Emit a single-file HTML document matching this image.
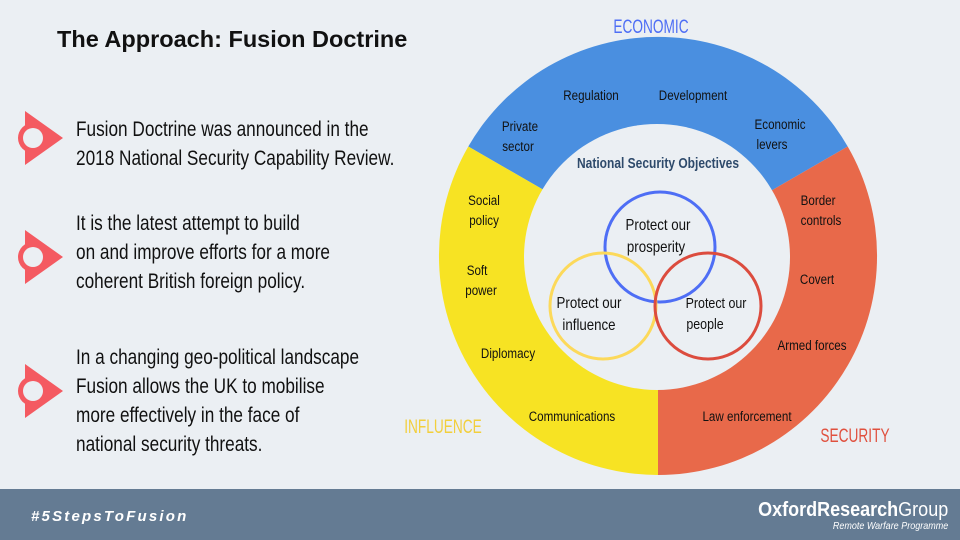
<!DOCTYPE html>
<html><head><meta charset="utf-8"><style>
html,body{margin:0;padding:0}
body{width:960px;height:540px;background:#ebeff3;position:relative;overflow:hidden;font-family:"Liberation Sans",sans-serif}
.t{position:absolute;color:#111;font-size:21.5px;line-height:29px;transform:scaleX(.8);transform-origin:0 0;white-space:nowrap}
svg text{transform-box:fill-box;transform-origin:center;transform:scaleX(.83)}
svg text.b{transform:scaleX(.8)}
svg text.u{transform:scaleX(.72)}
</style></head><body>
<div style="position:absolute;left:57px;top:26px;font:bold 23.5px 'Liberation Sans',sans-serif;color:#111;white-space:nowrap">The Approach: Fusion Doctrine</div>
<div class="t" style="left:76px;top:115px">Fusion Doctrine was announced in the<br>2018 National Security Capability Review.</div>
<div class="t" style="left:76px;top:209px">It is the latest attempt to build<br>on and improve efforts for a more<br>coherent British foreign policy.</div>
<div class="t" style="left:76px;top:343px">In a changing geo-political landscape<br>Fusion allows the UK to mobilise<br>more effectively in the face of<br>national security threats.</div>
<svg width="960" height="540" style="position:absolute;left:0;top:0" font-family="Liberation Sans, sans-serif">
<g fill="#f45a61">
<g transform="translate(33,138)"><path d="M-8,-27 L30,0 L-8,27 Z"/><circle r="15"/><circle r="10" fill="#ebeff3"/></g>
<g transform="translate(33,257)"><path d="M-8,-27 L30,0 L-8,27 Z"/><circle r="15"/><circle r="10" fill="#ebeff3"/></g>
<g transform="translate(33,391)"><path d="M-8,-27 L30,0 L-8,27 Z"/><circle r="15"/><circle r="10" fill="#ebeff3"/></g>
</g>
<path d="M658,256 L468.3,146.5 A219,219 0 0 1 847.7,146.5 Z" fill="#4a8fe0"/>
<path d="M658,256 L847.7,146.5 A219,219 0 0 1 658,475 Z" fill="#e8694a"/>
<path d="M658,256 L658,475 A219,219 0 0 1 468.3,146.5 Z" fill="#f7e323"/>
<circle cx="657" cy="257" r="133" fill="#ebeff3"/>
<circle cx="660" cy="247" r="55" fill="none" stroke="#4e6ef5" stroke-width="3"/>
<circle cx="603" cy="306" r="53" fill="none" stroke="#fcd95a" stroke-width="3"/>
<circle cx="708" cy="306" r="53" fill="none" stroke="#dc4c3e" stroke-width="3"/>
<g font-size="15" fill="#111" text-anchor="middle">
<text class="b" x="658" y="168" font-weight="bold" fill="#2e4a6b" font-size="15">National Security Objectives</text>
<text x="658" y="230" font-size="16">Protect our</text><text x="656" y="252" font-size="16">prosperity</text>
<text x="589" y="308" font-size="16">Protect our</text><text x="589" y="330" font-size="16">influence</text>
<text x="716" y="308">Protect our</text><text x="705" y="329">people</text>
<text x="591" y="100" font-size="14">Regulation</text>
<text x="693" y="100" font-size="14">Development</text>
<text x="520" y="131" font-size="14">Private</text><text x="518" y="151" font-size="14">sector</text>
<text x="780" y="129" font-size="14">Economic</text><text x="772" y="149" font-size="14">levers</text>
<text x="484" y="205" font-size="14">Social</text><text x="484" y="225" font-size="14">policy</text>
<text x="477" y="275" font-size="14">Soft</text><text x="481" y="295" font-size="14">power</text>
<text x="508" y="358" font-size="14">Diplomacy</text>
<text x="572" y="421" font-size="14">Communications</text>
<text x="818" y="205" font-size="14">Border</text><text x="821" y="225" font-size="14">controls</text>
<text x="817" y="284" font-size="14">Covert</text>
<text x="812" y="350" font-size="14">Armed forces</text>
<text x="747" y="421" font-size="14">Law enforcement</text>
<text class="u" x="651" y="33" font-size="19" fill="#4e6ef5">ECONOMIC</text>
<text class="u" x="443" y="433" font-size="19" fill="#f2cf3c">INFLUENCE</text>
<text class="u" x="855" y="442" font-size="19" fill="#e0503e">SECURITY</text>
</g>
</svg>
<div style="position:absolute;left:0;top:489px;width:960px;height:51px;background:#647b93"></div>
<div style="position:absolute;left:31px;top:508px;color:#fff;font:italic bold 15px 'Liberation Sans',sans-serif;letter-spacing:2.2px">#5StepsToFusion</div>
<div style="position:absolute;right:12px;top:499px;color:#fff;font-size:20px;line-height:22px;text-align:right;transform:scaleX(.9);transform-origin:100% 0;white-space:nowrap"><b>OxfordResearch</b>Group<div style="font-size:10px;line-height:12px;font-style:italic">Remote Warfare Programme</div></div>
</body></html>
